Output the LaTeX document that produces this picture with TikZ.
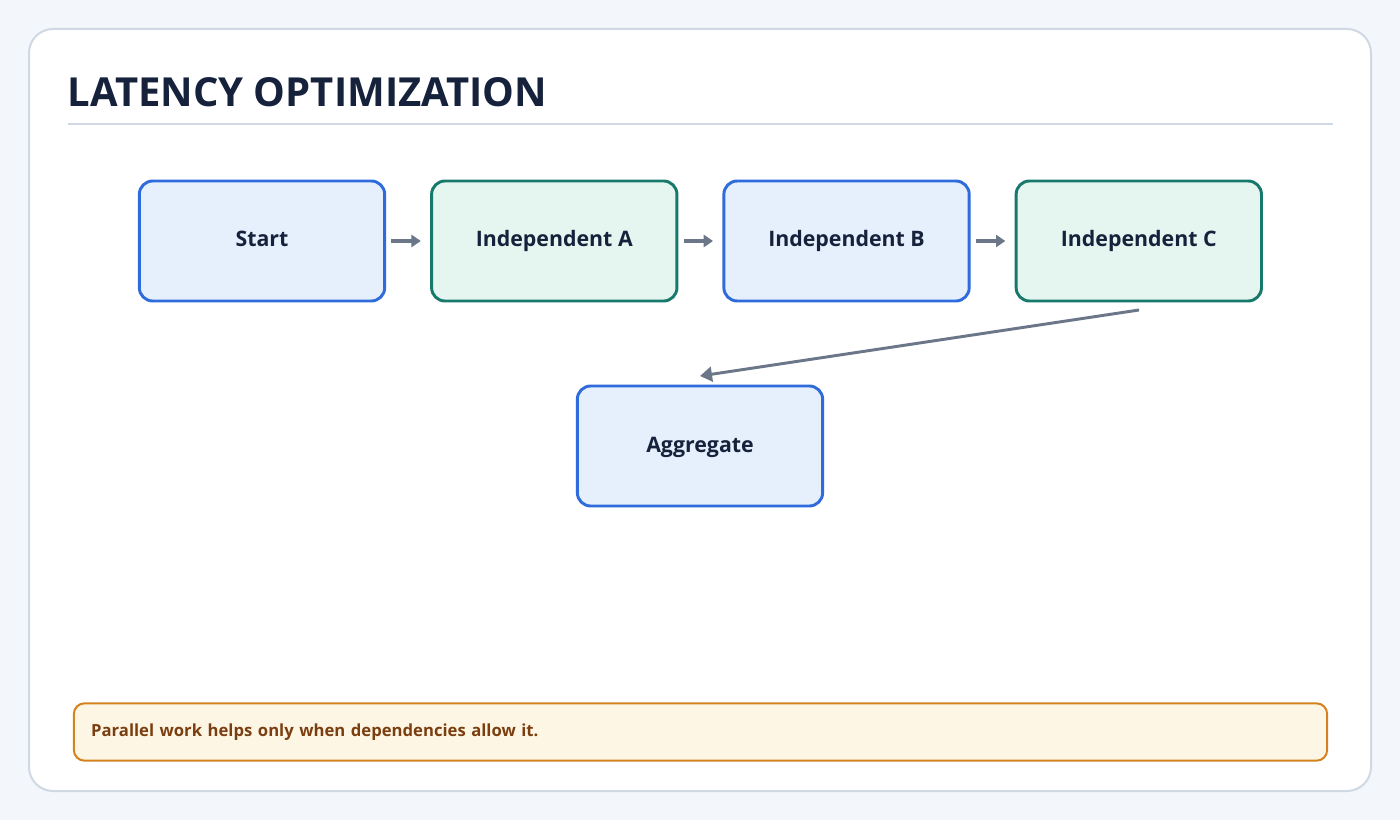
\documentclass[tikz,border=0pt]{standalone}
\usepackage{fontspec}
\setmainfont{Open Sans}
\usetikzlibrary{positioning,arrows.meta}
\definecolor{pagebg}{HTML}{F3F6FA}
\definecolor{panelline}{HTML}{CFD8E3}
\definecolor{titleink}{HTML}{16223B}
\definecolor{blueline}{HTML}{2F6BDB}
\definecolor{bluefill}{HTML}{E6F0FD}
\definecolor{greenline}{HTML}{17796B}
\definecolor{greenfill}{HTML}{E5F6F1}
\definecolor{arrowink}{HTML}{6B7689}
\definecolor{noteline}{HTML}{D5821E}
\definecolor{notefill}{HTML}{FEF6E4}
\definecolor{noteink}{HTML}{7A3E10}
\tikzset{
  stage/.style={draw=blueline, fill=bluefill, line width=2.2pt, rounded corners=10pt,
    minimum width=184pt, minimum height=90pt, text height=12pt, text depth=3pt,
    font=\fontsize{16}{20}\selectfont\bfseries, text=titleink},
  indep/.style={stage, draw=greenline, fill=greenfill},
  flow/.style={-{Triangle[length=7pt,width=9pt]}, draw=arrowink, line width=2.6pt}
}
\begin{document}
\begin{tikzpicture}[x=0.75pt,y=0.75pt,yscale=-1,xscale=1]
	%background and panel
	\fill[pagebg] (0,0) rectangle (1400,820);
	\draw[panelline, fill=white, line width=1.5pt, rounded corners=18pt] (29,29) rectangle (1371,791);
	% Title
	\node[anchor=west, text=titleink, font=\fontsize{30}{36}\selectfont\bfseries] (title) at (63,92) {LATENCY OPTIMIZATION};
	\draw[panelline, line width=1.5pt] (68,124) -- (1333,124);

	% Stages
	\node[stage] (start) at (262,241) {Start};
	\node[indep, right=33pt of start] (inda) {Independent A};
	\node[stage, right=33pt of inda] (indb) {Independent B};
	\node[indep, right=33pt of indb] (indc) {Independent C};
	\node[stage] (agg) at (700,446) {Aggregate};

	% Connectors
	\draw[flow, shorten <=4pt, shorten >=7pt] (start) -- (inda);
	\draw[flow, shorten <=4pt, shorten >=7pt] (inda) -- (indb);
	\draw[flow, shorten <=4pt, shorten >=7pt] (indb) -- (indc);
	\coordinate (cfoot) at (1139,310);
	\coordinate (ahead) at (700,376);
	\draw[flow, line width=2.2pt, -{Triangle[length=9pt,width=11pt]}] (cfoot) -- (ahead);

	% Note
	\node[draw=noteline, fill=notefill, line width=1.5pt, rounded corners=8pt, minimum width=940pt, minimum height=43pt,
	  text width=914pt, font=\fontsize{12.5}{16}\selectfont\bfseries, text=noteink] (note) at (700.5,732) {Parallel work helps only when dependencies allow it.};
\end{tikzpicture}
\end{document}
